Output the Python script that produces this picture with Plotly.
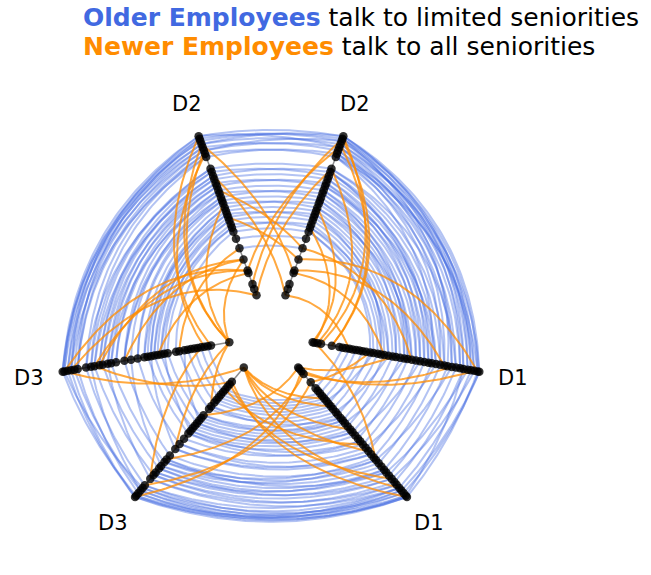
import numpy as np
import plotly.graph_objects as go

# ---------------- data ----------------
departments = ["D1", "D2", "D3"]

# tenure (years) of each employee, per department
tenure_d1 = [0.0, 0.2, 0.6, 1.0, 2.3, 3.2, 3.6, 4.0, 4.4, 4.8, 5.2, 5.6, 6.0, 6.4, 6.9,
             7.3, 7.8, 8.2, 8.6, 9.1, 9.6, 10.0, 10.5, 11.0, 11.4, 11.9, 12.4, 12.9, 13.4,
             13.9, 14.3, 14.8, 15.3, 15.8, 16.2, 16.7, 17.2, 17.7, 18.1, 18.6, 19.0, 19.4,
             19.8, 20.0]
tenure_d2 = [0.0, 0.8, 1.4, 2.8, 3.1, 4.5, 5.9, 7.1, 8.0, 8.5, 8.9, 9.4, 9.8, 10.2, 10.6,
             11.0, 11.5, 11.9, 12.3, 12.8, 13.2, 13.7, 14.1, 14.6, 15.0, 15.5, 15.9, 17.4,
             17.8, 18.2, 18.6, 19.0, 19.4, 19.7, 20.0]
tenure_d3 = [0.0, 2.2, 2.6, 3.0, 3.4, 3.8, 4.2, 4.6, 5.0, 5.4, 6.0, 6.4, 7.4, 7.8, 8.2,
             8.6, 9.0, 9.4, 9.8, 10.2, 11.0, 11.8, 12.6, 13.6, 14.2, 14.6, 15.2, 15.6,
             16.2, 16.6, 17.2, 18.2, 18.6, 19.0, 19.4, 19.8, 20.0]

# edges of older employees (index pairs into the tenure lists)
older_d1_d2 = [(43, 34), (42, 33), (41, 32), (40, 34), (39, 31), (38, 30), (37, 29), (36, 28),
               (35, 27), (34, 33), (33, 26), (32, 25), (31, 24), (30, 23), (29, 22), (28, 21),
               (27, 20), (26, 19), (25, 18), (24, 17), (23, 16), (22, 15), (21, 14), (20, 13),
               (19, 12), (18, 11), (17, 10), (16, 9), (15, 8), (43, 30), (41, 28), (39, 34),
               (37, 32), (33, 29), (30, 27), (28, 25), (26, 22), (24, 20), (14, 8), (42, 27),
               (40, 31), (38, 33), (36, 26), (35, 30), (32, 28), (31, 21), (29, 25), (27, 23),
               (25, 15), (23, 19), (21, 17), (19, 9), (17, 13)]
older_d2_d3 = [(34, 36), (33, 35), (32, 34), (31, 33), (30, 32), (29, 31), (28, 30), (27, 29),
               (26, 28), (25, 27), (24, 26), (23, 25), (22, 24), (21, 23), (20, 22), (19, 21),
               (18, 20), (17, 20), (16, 19), (15, 18), (14, 17), (13, 16), (12, 15), (11, 14),
               (10, 13), (9, 12), (8, 11), (34, 33), (32, 36), (30, 35), (28, 31), (26, 29),
               (24, 27), (22, 26), (20, 23), (18, 22), (33, 31), (29, 34),
               (31, 36), (27, 33), (25, 30), (23, 28), (21, 25), (19, 24), (17, 22), (15, 17),
               (13, 19), (11, 16), (9, 14)]
older_d3_d1 = [(36, 43), (35, 42), (34, 41), (33, 40), (32, 39), (31, 38), (30, 37), (29, 36),
               (28, 35), (27, 34), (26, 33), (25, 32), (24, 31), (23, 30), (22, 28), (21, 26),
               (20, 24), (19, 22), (18, 21), (17, 20), (16, 19), (15, 18), (14, 17), (13, 16),
               (12, 15), (11, 14), (10, 13), (9, 12), (8, 11), (7, 10), (6, 9), (5, 8), (4, 7),
               (36, 40), (34, 43), (32, 42), (30, 39), (28, 33), (25, 29), (22, 27), (19, 25),
               (35, 39), (33, 43), (31, 41), (29, 38), (27, 36), (26, 30), (24, 34), (21, 28),
               (18, 24), (15, 21), (12, 17), (10, 16)]
older_d1_d1 = [(43, 42), (41, 43), (39, 40), (37, 38), (35, 36), (33, 34), (31, 32), (29, 30),
               (27, 28), (25, 26), (23, 24), (21, 22), (19, 20), (17, 18), (15, 16), (13, 14),
               (11, 12), (9, 10), (7, 8), (5, 6),
               (42, 38), (40, 43), (36, 41), (34, 39), (30, 35), (26, 31), (22, 27), (18, 23),
               (14, 19), (10, 15)]
older_d2_d2 = [(34, 34), (33, 32), (32, 33), (31, 31), (30, 29), (29, 30), (28, 27), (27, 28),
               (26, 26), (25, 24), (24, 25), (23, 23), (22, 21), (21, 22), (20, 20), (19, 18),
               (18, 19), (17, 17), (16, 15), (15, 16), (14, 14), (13, 12), (12, 13), (11, 11),
               (10, 9), (9, 10), (8, 8), (7, 7), (6, 6), (34, 31), (32, 29), (30, 34)]
older_d3_d3 = [(36, 35), (34, 36), (32, 33), (30, 31), (28, 29), (26, 27), (24, 25), (22, 23),
               (20, 21), (18, 19), (16, 17), (14, 15), (12, 13), (10, 11), (8, 9), (6, 7),
               (4, 5), (2, 3),
               (35, 32), (33, 36), (31, 34), (29, 33), (25, 30), (21, 26), (17, 22), (13, 18),
               (9, 14)]

# edges of newer employees
newer_d1_d2 = [(8, 0), (18, 3), (33, 4), (42, 5), (0, 15), (2, 26), (4, 33), (1, 9), (25, 6),
               (3, 34), (4, 31)]
newer_d2_d3 = [(5, 0), (16, 0), (29, 0), (3, 15), (4, 28), (0, 33), (6, 10), (28, 3), (34, 1),
               (31, 0), (4, 35), (5, 27), (5, 22)]
newer_d3_d1 = [(0, 9), (0, 20), (0, 27), (0, 39), (0, 12), (2, 36), (4, 25), (12, 0), (24, 3),
               (31, 4), (36, 2), (1, 43)]
newer_d1_d1 = [(0, 20), (3, 35), (4, 14), (30, 1), (2, 41)]
newer_d2_d2 = [(0, 24), (3, 31), (5, 12), (6, 20), (30, 4), (33, 2), (26, 0)]
newer_d3_d3 = [(0, 10), (0, 22), (4, 30), (28, 1), (35, 0)]

# ---------------- layout / geometry ----------------
R0, R1 = 1.0, 5.0          # inner / outer radius of each axis
TMAX = 20.0
PX = 42.3                  # pixels per unit
W, H = 651, 575
CX, CY = 271, 335          # centre in figure pixels

tenures = {"D1": tenure_d1, "D2": tenure_d2, "D3": tenure_d3}
axis_angles = {"D1": (310, 350), "D2": (70, 110), "D3": (190, 230)}


def rad(t):
    return R0 + t / TMAX * (R1 - R0)


def pol(r, a):
    return r * np.cos(np.radians(a)), r * np.sin(np.radians(a))


def curve(r0, a0, r2, a2, scale):
    am = (a0 + a2) / 2
    rm = scale * (r0 + r2) / 2
    p0 = np.array(pol(r0, a0))
    p1 = np.array(pol(rm, am))
    p2 = np.array(pol(r2, a2))
    s = np.linspace(0, 1, 60)[:, None]
    b = (1 - s) ** 2 * p0 + 2 * s * (1 - s) * p1 + s ** 2 * p2
    return b[:, 0], b[:, 1]


fig = go.Figure()

blocks = [
    (older_d1_d2, "D1", 350, "D2", 430, 1.11),
    (older_d2_d3, "D2", 110, "D3", 190, 1.08),
    (older_d3_d1, "D3", 230, "D1", 310, 1.0),
    (older_d1_d1, "D1", 310, "D1", 350, 1.0),
    (older_d2_d2, "D2", 70, "D2", 110, 1.0),
    (older_d3_d3, "D3", 190, "D3", 230, 1.0),
]
newer_blocks = [
    (newer_d1_d2, "D1", 350, "D2", 430, 1.11),
    (newer_d2_d3, "D2", 110, "D3", 190, 1.08),
    (newer_d3_d1, "D3", 230, "D1", 310, 1.0),
    (newer_d1_d1, "D1", 310, "D1", 350, 1.0),
    (newer_d2_d2, "D2", 70, "D2", 110, 1.0),
    (newer_d3_d3, "D3", 190, "D3", 230, 1.0),
]


def add_edges(blks, color, width):
    for edges, sd, sa, td, ta, sc in blks:
        for i, j in edges:
            x, y = curve(rad(tenures[sd][i]), sa, rad(tenures[td][j]), ta, sc)
            fig.add_trace(go.Scatter(x=x, y=y, mode="lines",
                                     line=dict(color=color, width=width),
                                     hoverinfo="skip", showlegend=False))


add_edges(blocks, "rgba(65,105,225,0.4)", 2.0)
add_edges(newer_blocks, "rgba(255,140,0,0.75)", 2.0)

# axes and nodes
for d in departments:
    for a in axis_angles[d]:
        x0, y0 = pol(R0, a)
        x1, y1 = pol(R1, a)
        fig.add_trace(go.Scatter(x=[x0, x1], y=[y0, y1], mode="lines",
                                 line=dict(color="rgba(90,90,90,0.7)", width=1.5),
                                 hoverinfo="skip", showlegend=False))
for d in departments:
    for a in axis_angles[d]:
        rs = np.array([rad(t) for t in tenures[d]])
        xs, ys = pol(rs, a)
        fig.add_trace(go.Scatter(x=xs, y=ys, mode="markers",
                                 marker=dict(color="rgba(0,0,0,0.8)", size=8.5),
                                 hoverinfo="skip", showlegend=False))
        lx, ly = pol(5.8, a)
        fig.add_annotation(x=lx, y=ly, text=d, showarrow=False,
                           font=dict(family="DejaVu Sans", size=21, color="black"),
                           xanchor="center", yanchor="middle")

fig.add_annotation(xref="paper", yref="paper", x=82 / W, y=1 - 17.5 / H,
                   xanchor="left", yanchor="middle", showarrow=False, borderpad=0,
                   text="<b><span style='color:royalblue'>Older Employees</span></b> talk to limited seniorities",
                   font=dict(family="DejaVu Sans", size=25, color="black"))
fig.add_annotation(xref="paper", yref="paper", x=82 / W, y=1 - 46.5 / H,
                   xanchor="left", yanchor="middle", showarrow=False, borderpad=0,
                   text="<b><span style='color:darkorange'>Newer Employees</span></b> talk to all seniorities",
                   font=dict(family="DejaVu Sans", size=25, color="black"))

fig.update_layout(
    width=W, height=H,
    margin=dict(l=0, r=0, t=0, b=0),
    paper_bgcolor="white", plot_bgcolor="white",
    xaxis=dict(range=[-CX / PX, (W - CX) / PX], visible=False, fixedrange=True),
    yaxis=dict(range=[-(H - CY) / PX, CY / PX], visible=False, fixedrange=True),
    showlegend=False,
)

fig.write_html("out.html", config={"displayModeBar": False},
               post_script="document.body.style.margin='0';document.body.style.overflow='hidden';")
